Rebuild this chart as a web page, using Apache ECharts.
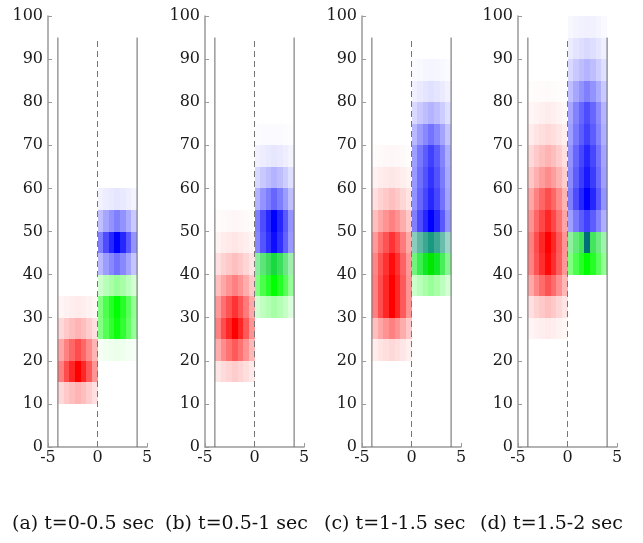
<!DOCTYPE html>
<html>
<head>
<meta charset="utf-8">
<script src="https://cdn.jsdelivr.net/npm/echarts@6/dist/echarts.min.js"></script>
<style>
  html, body { margin: 0; padding: 0; background: #fff; }
  #main { width: 643px; height: 543px; }
</style>
</head>
<body>
<div id="main"></div>
<script>
var chartDom = document.getElementById('main');
var myChart = echarts.init(chartDom);

// tick labels
const yTicks = [0, 10, 20, 30, 40, 50, 60, 70, 80, 90, 100];
const xTicks = [-5, 0, 5];
const captions = ['(a) t=0-0.5 sec', '(b) t=0.5-1 sec', '(c) t=1-1.5 sec', '(d) t=1.5-2 sec'];

// horizontal shading across one block (7 sub-columns)
const colProfile = [0.5, 0.7, 0.85, 1.0, 0.85, 0.65, 0.42];
const rowHeight = 5; // each row covers 5 units of y (rows 0-5, 5-10, ... 95-100)

// row intensities, index i = y from 5*i to 5*i+5
const redA   = [0, 0, 0.3, 1.0, 0.7, 0.3, 0.08, 0, 0, 0, 0, 0, 0, 0, 0, 0, 0, 0, 0, 0];
const greenA = [0, 0, 0, 0, 0.08, 0.95, 1.0, 0.4, 0, 0, 0, 0, 0, 0, 0, 0, 0, 0, 0, 0];
const blueA  = [0, 0, 0, 0, 0, 0, 0, 0, 0.55, 1.0, 0.5, 0.1, 0, 0, 0, 0, 0, 0, 0, 0];

const redB   = [0, 0, 0, 0.2, 0.65, 1.0, 0.8, 0.5, 0.25, 0.1, 0.03, 0, 0, 0, 0, 0, 0, 0, 0, 0];
const greenB = [0, 0, 0, 0, 0, 0, 0.35, 1.0, 0.75, 0, 0, 0, 0, 0, 0, 0, 0, 0, 0, 0];
const blueB  = [0, 0, 0, 0, 0, 0, 0, 0, 0.15, 0.95, 1.0, 0.6, 0.3, 0.1, 0.02, 0, 0, 0, 0, 0];

const redC   = [0, 0, 0, 0, 0.15, 0.5, 1.0, 1.0, 0.95, 0.8, 0.5, 0.25, 0.1, 0.03, 0, 0, 0, 0, 0, 0];
const greenC = [0, 0, 0, 0, 0, 0, 0, 0.4, 1.0, 0.5, 0, 0, 0, 0, 0, 0, 0, 0, 0, 0];
const blueC  = [0, 0, 0, 0, 0, 0, 0, 0, 0.1, 0.4, 1.0, 0.85, 0.8, 0.75, 0.55, 0.3, 0.12, 0.04, 0, 0];

const redD   = [0, 0, 0, 0, 0, 0.08, 0.25, 0.68, 0.97, 1.0, 0.85, 0.7, 0.45, 0.3, 0.15, 0.07, 0.02, 0, 0, 0];
const greenD = [0, 0, 0, 0, 0, 0, 0, 0, 1.0, 0.75, 0, 0, 0, 0, 0, 0, 0, 0, 0, 0];
const blueD  = [0, 0, 0, 0, 0, 0, 0, 0, 0, 0.12, 0.75, 1.0, 0.9, 0.85, 0.75, 0.7, 0.5, 0.3, 0.15, 0.06];
// blue swapped in for green in the middle sub-column only (the teal notch in panel d)
const blueNotchD = [0, 0, 0, 0, 0, 0, 0, 0, 0, 0.45, 0, 0, 0, 0, 0, 0, 0, 0, 0, 0];
const noNotch    = [0, 0, 0, 0, 0, 0, 0, 0, 0, 0, 0, 0, 0, 0, 0, 0, 0, 0, 0, 0];

const panels = [
  { red: redA, green: greenA, blue: blueA, notch: noNotch },
  { red: redB, green: greenB, blue: blueB, notch: noNotch },
  { red: redC, green: greenC, blue: blueC, notch: noNotch },
  { red: redD, green: greenD, blue: blueD, notch: blueNotchD }
];

// block extents on x
const leftBlock = [-4, 0];
const rightBlock = [0, 4];
// reference lines
const solidLinesX = [-4, 4];
const dashedLineX = 0;
const lineTop = 95;

const gridLefts = [48, 205, 362, 518];
const gridWidth = 99;
const fontFamily = '"DejaVu Serif", "Liberation Serif", serif';

function clamp(v) { return Math.max(0, Math.min(1, v)); }
function rgb(r, g, b) {
  return 'rgb(' + Math.round(clamp(r) * 255) + ',' + Math.round(clamp(g) * 255) + ',' + Math.round(clamp(b) * 255) + ')';
}

// build cells for one panel: red on the left, blue/green mixed on the right
function buildCells(p) {
  const cells = [];
  const n = colProfile.length;
  const mid = Math.floor(n / 2);
  for (let i = 0; i < p.red.length; i++) {
    const y0 = i * rowHeight, y1 = y0 + rowHeight;
    for (let j = 0; j < n; j++) {
      const w = colProfile[j];
      // left block (red)
      const r = p.red[i] * w;
      if (r > 0) {
        const x0 = leftBlock[0] + (leftBlock[1] - leftBlock[0]) * j / n;
        const x1 = leftBlock[0] + (leftBlock[1] - leftBlock[0]) * (j + 1) / n;
        cells.push({ value: [x0, y0, x1, y1], itemStyle: { color: rgb(1, 1 - r, 1 - r) } });
      }
      // right block (blue + green, subtractive mix)
      const notch = j === mid ? p.notch[i] : 0;
      const b = p.blue[i] * w + notch;
      const g = p.green[i] * w - notch * 0.5;
      if (b > 0 || g > 0) {
        const x0 = rightBlock[0] + (rightBlock[1] - rightBlock[0]) * j / n;
        const x1 = rightBlock[0] + (rightBlock[1] - rightBlock[0]) * (j + 1) / n;
        cells.push({ value: [x0, y0, x1, y1], itemStyle: { color: rgb(1 - b - g, 1 - b, 1 - g) } });
      }
    }
  }
  return cells;
}

function renderCell(params, api) {
  const p0 = api.coord([api.value(0), api.value(3)]);
  const p1 = api.coord([api.value(2), api.value(1)]);
  const x = Math.round(p0[0]), y = Math.round(p0[1]);
  return {
    type: 'rect',
    shape: { x: x, y: y, width: Math.round(p1[0]) - x, height: Math.round(p1[1]) - y },
    style: { fill: api.visual('color') }
  };
}

const grids = [], xAxes = [], yAxes = [], series = [], texts = [];

panels.forEach(function (p, k) {
  grids.push({ left: gridLefts[k], width: gridWidth, top: 16, bottom: 96 });
  xAxes.push({
    gridIndex: k, type: 'value', min: xTicks[0], max: xTicks[xTicks.length - 1], interval: 5,
    splitLine: { show: false },
    axisLine: { onZero: false, lineStyle: { color: '#9a9a9a', width: 1.5 } },
    axisTick: { inside: true, length: 4, lineStyle: { color: '#9a9a9a' } },
    axisLabel: { color: '#1a1a1a', fontFamily: fontFamily, fontSize: 16, margin: 3 }
  });
  yAxes.push({
    gridIndex: k, type: 'value', min: yTicks[0], max: yTicks[yTicks.length - 1], interval: 10,
    splitLine: { show: false },
    axisLine: { show: true, onZero: false, lineStyle: { color: '#9a9a9a', width: 1.5 } },
    axisTick: { show: true, inside: true, length: 4, lineStyle: { color: '#9a9a9a' } },
    axisLabel: { color: '#1a1a1a', fontFamily: fontFamily, fontSize: 16, margin: 5 }
  });
  series.push({
    type: 'custom', xAxisIndex: k, yAxisIndex: k,
    renderItem: renderCell,
    encode: { x: [0, 2], y: [1, 3] },
    data: buildCells(p),
    silent: true, animation: false
  });
  solidLinesX.forEach(function (lx) {
    series.push({
      type: 'line', xAxisIndex: k, yAxisIndex: k, symbol: 'none', silent: true, animation: false,
      data: [[lx, 0], [lx, lineTop]],
      lineStyle: { color: '#666', width: 1 }, z: 5
    });
  });
  series.push({
    type: 'line', xAxisIndex: k, yAxisIndex: k, symbol: 'none', silent: true, animation: false,
    data: [[dashedLineX, 0], [dashedLineX, lineTop]],
    lineStyle: { color: '#777', width: 1, type: [6, 4] }, z: 5
  });
});

const captionLefts = [12, 165, 324, 480];
captions.forEach(function (c, k) {
  texts.push({
    type: 'text', left: captionLefts[k], top: 515,
    style: { text: c, font: '19px ' + fontFamily, fill: '#111' }
  });
});

myChart.setOption({
  animation: false,
  grid: grids,
  xAxis: xAxes,
  yAxis: yAxes,
  series: series,
  graphic: { elements: texts }
});
</script>
</body>
</html>
